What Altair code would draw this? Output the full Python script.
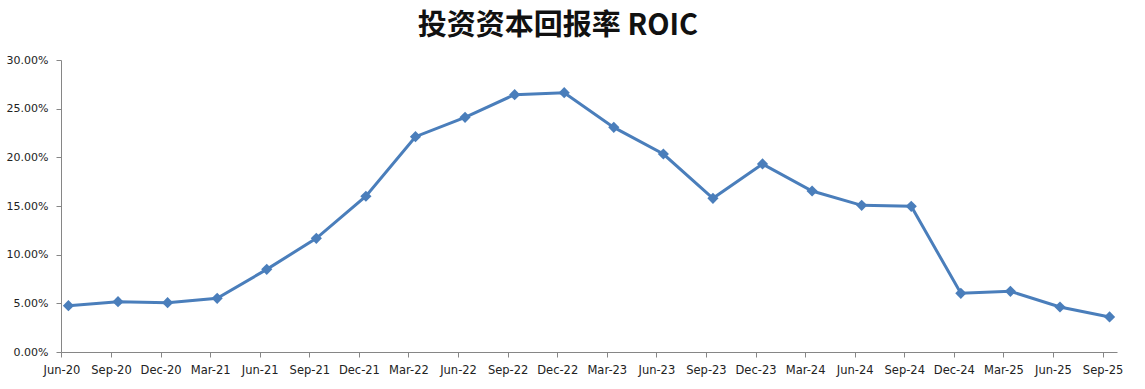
import altair as alt
import pandas as pd

# Quarterly ROIC readings
quarters = [
    "Jun-20", "Sep-20", "Dec-20", "Mar-21", "Jun-21", "Sep-21", "Dec-21", "Mar-22",
    "Jun-22", "Sep-22", "Dec-22", "Mar-23", "Jun-23", "Sep-23", "Dec-23", "Mar-24",
    "Jun-24", "Sep-24", "Dec-24", "Mar-25", "Jun-25", "Sep-25",
]
roic = [
    0.0476, 0.0517, 0.0507, 0.0551, 0.0849, 0.1168, 0.1600, 0.2212,
    0.2411, 0.2644, 0.2664, 0.2308, 0.2034, 0.1579, 0.1932, 0.1654,
    0.1507, 0.1497, 0.0603, 0.0623, 0.0462, 0.0360,
]
y_ticks = [0.0, 0.05, 0.10, 0.15, 0.20, 0.25, 0.30]

df = pd.DataFrame({"quarter": quarters, "roic": roic})

LINE_BLUE = "#4A7EBB"
AXIS_GREY = "#868686"
FONT = "DejaVu Sans"

x_enc = alt.X(
    "quarter:N",
    sort=quarters,
    scale=alt.Scale(type="point", padding=0.15),
    axis=alt.Axis(
        title=None,
        labelAngle=0,
        labelFont=FONT,
        labelFontSize=11.5,
        labelColor="#222222",
        labelPadding=7,
        tickSize=5,
        tickOffset=-7,
        tickColor=AXIS_GREY,
        domainColor=AXIS_GREY,
        grid=False,
        labelOverlap=False,
    ),
)
y_enc = alt.Y(
    "roic:Q",
    scale=alt.Scale(domain=[0, 0.30], nice=False),
    axis=alt.Axis(
        title=None,
        values=y_ticks,
        format=".2%",
        labelFont=FONT,
        labelFontSize=11,
        labelColor="#222222",
        labelPadding=8,
        tickSize=5,
        tickColor=AXIS_GREY,
        domainColor=AXIS_GREY,
        grid=False,
    ),
)

line = alt.Chart(df).mark_line(color=LINE_BLUE, strokeWidth=3).encode(x=x_enc, y=y_enc)
points = alt.Chart(df).mark_point(
    shape="diamond", filled=True, color=LINE_BLUE, size=125, opacity=1
).encode(x=x_enc, y=y_enc)

chart = (
    alt.layer(line, points)
    .properties(
        width=1056,
        height=292,
        autosize=alt.AutoSizeParams(type="none"),
        padding={"left": 61, "top": 60, "right": 28, "bottom": 37},
        title=alt.TitleParams(
            text="投资资本回报率 ROIC",
            font="Noto Sans CJK SC",
            fontSize=29,
            fontWeight="bold",
            color="#111111",
            anchor="middle",
            dx=-31,
            offset=13,
        ),
        background="white",
    )
    .configure_view(stroke=None)
)

chart.save("out.html", embed_options={"renderer": "svg", "actions": False})
